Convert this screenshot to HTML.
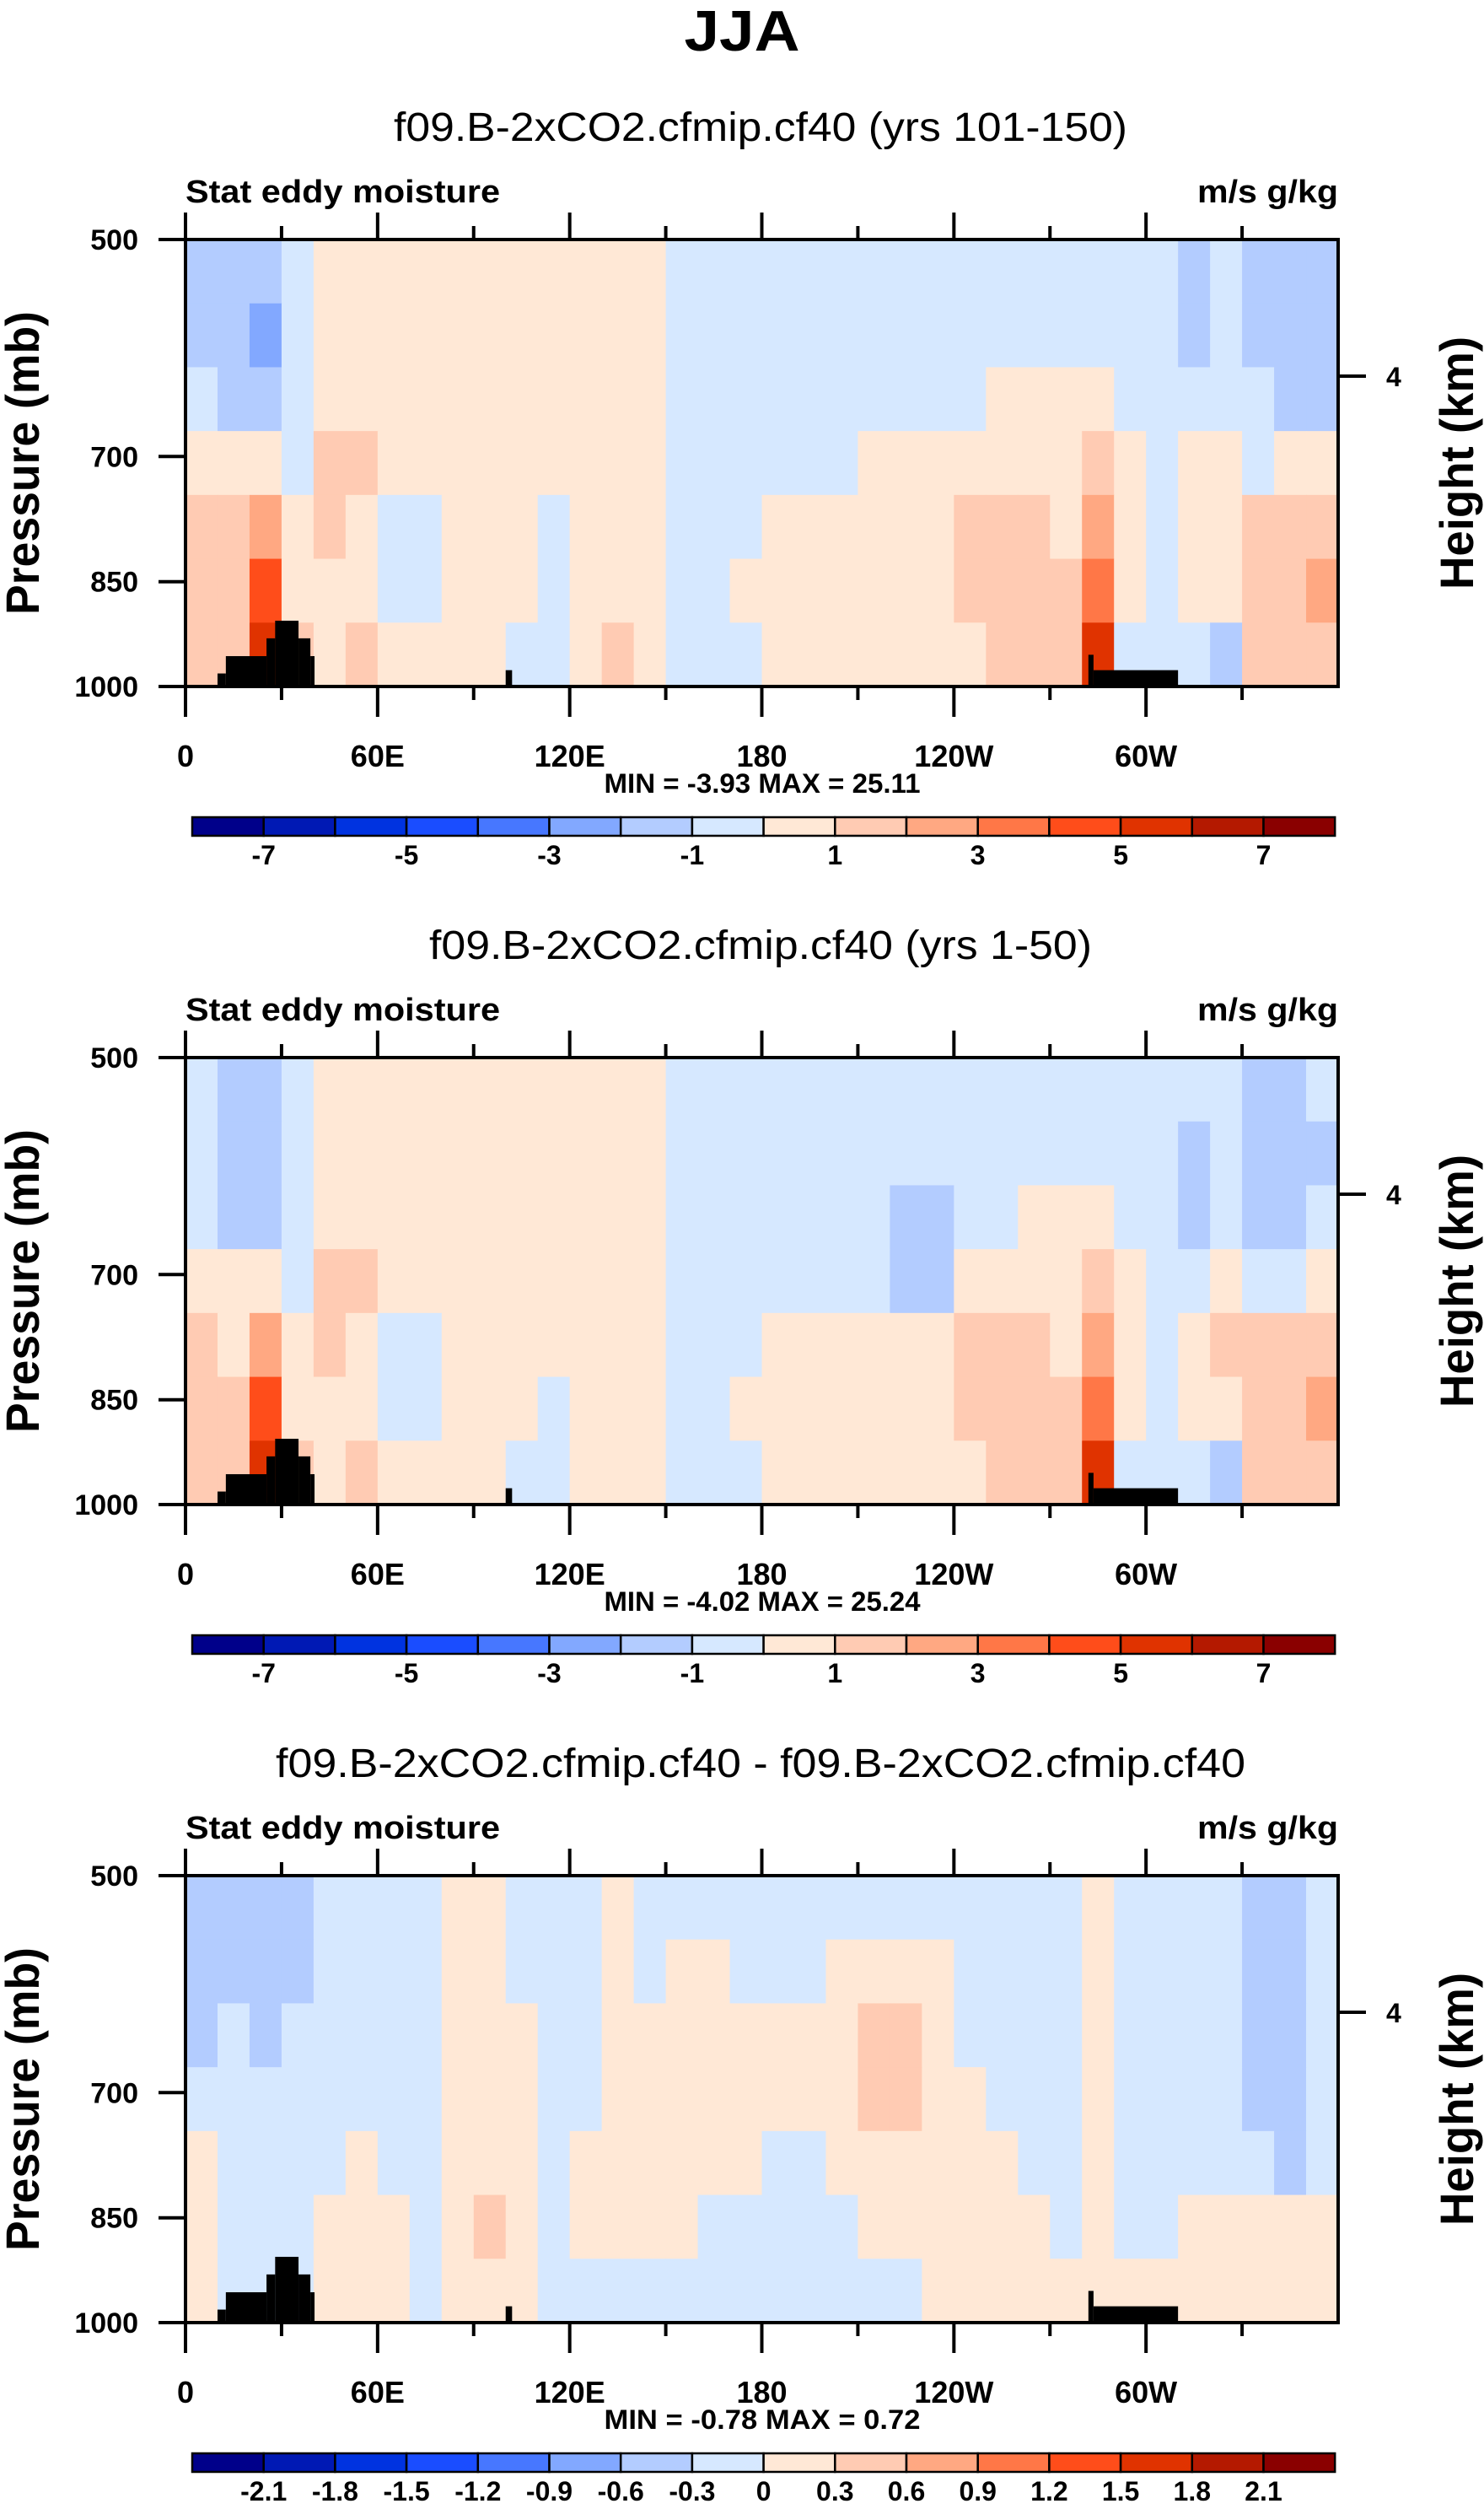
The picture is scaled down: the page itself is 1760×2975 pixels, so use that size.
<!DOCTYPE html>
<html><head><meta charset="utf-8"><title>JJA Stat eddy moisture</title>
<style>html,body{margin:0;padding:0;background:#fff}svg{display:block}text{font-family:"Liberation Sans",sans-serif}</style>
</head><body>
<svg id="fig" xmlns="http://www.w3.org/2000/svg" width="1760" height="2975" viewBox="0 0 1760 2975">
<rect width="1760" height="2975" fill="#fff"/>
<text x="880" y="60" text-anchor="middle" font-size="68" font-weight="bold" textLength="137" lengthAdjust="spacingAndGlyphs">JJA</text>
</svg>
<script>
// shared structure
const lonCols = [0,10,20,30,40,50,60,70,80,90,100,110,120,130,140,150,160,170,180,190,200,210,220,230,240,250,260,270,280,290,300,310,320,330,340,350];
const pressureTicks = [500,700,850,1000];
const lonTicks = [0,60,120,180,240,300];
const lonTickLabels = ["0","60E","120E","180","120W","60W"];
const cbColors = ["#00008a","#0019b4","#0033e0","#1a4dff","#4777ff","#82a8ff","#b3ccff","#d6e8ff","#ffe8d6","#ffcbb3","#ffa882","#ff7747","#ff4d1a","#e03300","#b41900","#8a0000"];
const cbLabelsA = ["","-7","","-5","","-3","","-1","","1","","3","","5","","7",""];
const cbLabelsB = ["","-2.1","-1.8","-1.5","-1.2","-0.9","-0.6","-0.3","0","0.3","0.6","0.9","1.2","1.5","1.8","2.1",""];
const topoLonStart = [10,12.6,25.3,28,35.3,39,100,282,283.6];
const topoLonEnd   = [12.6,25.3,28,35.3,39,40.3,102,283.6,310];
const topoTopP     = [980,954,928,903,928,954,975,952,975];

// panel 1 values (rows top 500mb -> bottom 1000mb)
const p1r0=[-1.5,-1.5,-1.5,-0.5,0.5,0.5,0.5,0.5,0.5,0.5,0.5,0.5,0.5,0.5,0.5,-0.5,-0.5,-0.5,-0.5,-0.5,-0.5,-0.5,-0.5,-0.5,-0.5,-0.5,-0.5,-0.5,-0.5,-0.5,-0.5,-1.5,-0.5,-1.5,-1.5,-1.5];
const p1r1=[-1.5,-1.5,-2.5,-0.5,0.5,0.5,0.5,0.5,0.5,0.5,0.5,0.5,0.5,0.5,0.5,-0.5,-0.5,-0.5,-0.5,-0.5,-0.5,-0.5,-0.5,-0.5,-0.5,-0.5,-0.5,-0.5,-0.5,-0.5,-0.5,-1.5,-0.5,-1.5,-1.5,-1.5];
const p1r2=[-0.5,-1.5,-1.5,-0.5,0.5,0.5,0.5,0.5,0.5,0.5,0.5,0.5,0.5,0.5,0.5,-0.5,-0.5,-0.5,-0.5,-0.5,-0.5,-0.5,-0.5,-0.5,-0.5,0.5,0.5,0.5,0.5,-0.5,-0.5,-0.5,-0.5,-0.5,-1.5,-1.5];
const p1r3=[0.5,0.5,0.5,-0.5,1.5,1.5,0.5,0.5,0.5,0.5,0.5,0.5,0.5,0.5,0.5,-0.5,-0.5,-0.5,-0.5,-0.5,-0.5,0.5,0.5,0.5,0.5,0.5,0.5,0.5,1.5,0.5,-0.5,0.5,0.5,-0.5,0.5,0.5];
const p1r4=[1.5,1.5,2.5,0.5,1.5,0.5,-0.5,-0.5,0.5,0.5,0.5,-0.5,0.5,0.5,0.5,-0.5,-0.5,-0.5,0.5,0.5,0.5,0.5,0.5,0.5,1.5,1.5,1.5,0.5,2.5,0.5,-0.5,0.5,0.5,1.5,1.5,1.5];
const p1r5=[1.5,1.5,4.5,0.5,0.5,0.5,-0.5,-0.5,0.5,0.5,0.5,-0.5,0.5,0.5,0.5,-0.5,-0.5,0.5,0.5,0.5,0.5,0.5,0.5,0.5,1.5,1.5,1.5,1.5,3.5,0.5,-0.5,0.5,0.5,1.5,1.5,2.5];
const p1r6=[1.5,1.5,5.5,1.5,0.5,1.5,0.5,0.5,0.5,0.5,-0.5,-0.5,0.5,1.5,0.5,-0.5,-0.5,-0.5,0.5,0.5,0.5,0.5,0.5,0.5,0.5,1.5,1.5,1.5,5.5,-0.5,-0.5,-0.5,-1.5,1.5,1.5,1.5];
// panel 2 values
const p2r0=[-0.5,-1.5,-1.5,-0.5,0.5,0.5,0.5,0.5,0.5,0.5,0.5,0.5,0.5,0.5,0.5,-0.5,-0.5,-0.5,-0.5,-0.5,-0.5,-0.5,-0.5,-0.5,-0.5,-0.5,-0.5,-0.5,-0.5,-0.5,-0.5,-0.5,-0.5,-1.5,-1.5,-0.5];
const p2r1=[-0.5,-1.5,-1.5,-0.5,0.5,0.5,0.5,0.5,0.5,0.5,0.5,0.5,0.5,0.5,0.5,-0.5,-0.5,-0.5,-0.5,-0.5,-0.5,-0.5,-0.5,-0.5,-0.5,-0.5,-0.5,-0.5,-0.5,-0.5,-0.5,-1.5,-0.5,-1.5,-1.5,-1.5];
const p2r2=[-0.5,-1.5,-1.5,-0.5,0.5,0.5,0.5,0.5,0.5,0.5,0.5,0.5,0.5,0.5,0.5,-0.5,-0.5,-0.5,-0.5,-0.5,-0.5,-0.5,-1.5,-1.5,-0.5,-0.5,0.5,0.5,0.5,-0.5,-0.5,-1.5,-0.5,-1.5,-1.5,-0.5];
const p2r3=[0.5,0.5,0.5,-0.5,1.5,1.5,0.5,0.5,0.5,0.5,0.5,0.5,0.5,0.5,0.5,-0.5,-0.5,-0.5,-0.5,-0.5,-0.5,-0.5,-1.5,-1.5,0.5,0.5,0.5,0.5,1.5,0.5,-0.5,-0.5,0.5,-0.5,-0.5,0.5];
const p2r4=[1.5,0.5,2.5,0.5,1.5,0.5,-0.5,-0.5,0.5,0.5,0.5,0.5,0.5,0.5,0.5,-0.5,-0.5,-0.5,0.5,0.5,0.5,0.5,0.5,0.5,1.5,1.5,1.5,0.5,2.5,0.5,-0.5,0.5,1.5,1.5,1.5,1.5];
const p2r5=[1.5,1.5,4.5,0.5,0.5,0.5,-0.5,-0.5,0.5,0.5,0.5,-0.5,0.5,0.5,0.5,-0.5,-0.5,0.5,0.5,0.5,0.5,0.5,0.5,0.5,1.5,1.5,1.5,1.5,3.5,0.5,-0.5,0.5,0.5,1.5,1.5,2.5];
const p2r6=[1.5,1.5,5.5,1.5,0.5,1.5,0.5,0.5,0.5,0.5,-0.5,-0.5,0.5,0.5,0.5,-0.5,-0.5,-0.5,0.5,0.5,0.5,0.5,0.5,0.5,0.5,1.5,1.5,1.5,5.5,-0.5,-0.5,-0.5,-1.5,1.5,1.5,1.5];
// panel 3 (difference) values
const p3r0=[-0.45,-0.45,-0.45,-0.45,-0.15,-0.15,-0.15,-0.15,0.15,0.15,-0.15,-0.15,-0.15,0.15,-0.15,-0.15,-0.15,-0.15,-0.15,-0.15,-0.15,-0.15,-0.15,-0.15,-0.15,-0.15,-0.15,-0.15,0.15,-0.15,-0.15,-0.15,-0.15,-0.45,-0.45,-0.15];
const p3r1=[-0.45,-0.45,-0.45,-0.45,-0.15,-0.15,-0.15,-0.15,0.15,0.15,-0.15,-0.15,-0.15,0.15,-0.15,0.15,0.15,-0.15,-0.15,-0.15,0.15,0.15,0.15,0.15,-0.15,-0.15,-0.15,-0.15,0.15,-0.15,-0.15,-0.15,-0.15,-0.45,-0.45,-0.15];
const p3r2=[-0.45,-0.15,-0.45,-0.15,-0.15,-0.15,-0.15,-0.15,0.15,0.15,0.15,-0.15,-0.15,0.15,0.15,0.15,0.15,0.15,0.15,0.15,0.15,0.45,0.45,0.15,-0.15,-0.15,-0.15,-0.15,0.15,-0.15,-0.15,-0.15,-0.15,-0.45,-0.45,-0.15];
const p3r3=[-0.15,-0.15,-0.15,-0.15,-0.15,-0.15,-0.15,-0.15,0.15,0.15,0.15,-0.15,-0.15,0.15,0.15,0.15,0.15,0.15,0.15,0.15,0.15,0.45,0.45,0.15,0.15,-0.15,-0.15,-0.15,0.15,-0.15,-0.15,-0.15,-0.15,-0.45,-0.45,-0.15];
const p3r4=[0.15,-0.15,-0.15,-0.15,-0.15,0.15,-0.15,-0.15,0.15,0.15,0.15,-0.15,0.15,0.15,0.15,0.15,0.15,0.15,-0.15,-0.15,0.15,0.15,0.15,0.15,0.15,0.15,-0.15,-0.15,0.15,-0.15,-0.15,-0.15,-0.15,-0.15,-0.45,-0.15];
const p3r5=[0.15,-0.15,-0.15,-0.15,0.15,0.15,0.15,-0.15,0.15,0.45,0.15,-0.15,0.15,0.15,0.15,0.15,-0.15,-0.15,-0.15,-0.15,-0.15,0.15,0.15,0.15,0.15,0.15,0.15,-0.15,0.15,-0.15,-0.15,0.15,0.15,0.15,0.15,0.15];
const p3r6=[0.15,-0.15,-0.15,-0.15,0.15,0.15,0.15,-0.15,0.15,0.15,0.15,-0.15,-0.15,-0.15,-0.15,-0.15,-0.15,-0.15,-0.15,-0.15,-0.15,-0.15,-0.15,0.15,0.15,0.15,0.15,0.15,0.15,0.15,0.15,0.15,0.15,0.15,0.15,0.15];
const panelTitles = ["f09.B-2xCO2.cfmip.cf40 (yrs 101-150)","f09.B-2xCO2.cfmip.cf40 (yrs 1-50)","f09.B-2xCO2.cfmip.cf40 - f09.B-2xCO2.cfmip.cf40"];
const panelStats = ["MIN =  -3.93  MAX =  25.11","MIN =  -4.02  MAX =  25.24","MIN =  -0.78  MAX =  0.72"];
const levelSteps = [1,1,0.3];

const NS="http://www.w3.org/2000/svg";
const svg=document.getElementById('fig');
function mk(tag,attrs,parent){const e=document.createElementNS(NS,tag);for(const k in attrs)e.setAttribute(k,attrs[k]);(parent||svg).appendChild(e);return e;}
const L=220,R=1587,PT=284,PB=814;
function xScale(lon){return L+(R-L)*lon/360;}
function yScale(p,off){return off+PT+(PB-PT)*Math.log(p/500)/Math.log(2);}
function colorFor(v,step){let i=Math.floor(v/step)+8;i=Math.max(0,Math.min(15,i));return cbColors[i];}

const panels=[[p1r0,p1r1,p1r2,p1r3,p1r4,p1r5,p1r6],[p2r0,p2r1,p2r2,p2r3,p2r4,p2r5,p2r6],[p3r0,p3r1,p3r2,p3r3,p3r4,p3r5,p3r6]];
const subW=[870,786,1150];

panels.forEach((rows,pi)=>{
  const off=pi*970;
  const g=mk('g',{});
  
  
  const st=mk('text',{x:902,y:off+167,'text-anchor':'middle','font-size':48,textLength:subW[pi],lengthAdjust:'spacingAndGlyphs'},g);
  st.textContent=panelTitles[pi];
  
  
  const lt=mk('text',{x:220,y:off+240,'font-size':38,'font-weight':'bold',textLength:373,lengthAdjust:'spacingAndGlyphs'},g);
  lt.textContent='Stat eddy moisture';
  
  
  const ut=mk('text',{x:1587,y:off+240,'text-anchor':'end','font-size':38,'font-weight':'bold',textLength:167,lengthAdjust:'spacingAndGlyphs'},g);
  ut.textContent='m/s g/kg';
  
  
  const nR=rows.length,h=(PB-PT)/nR;
  rows.forEach((row,ri)=>{
    row.forEach((v,ci)=>{
      const x0=xScale(lonCols[ci]),x1=xScale(ci+1<lonCols.length?lonCols[ci+1]:360);
      const c=mk('rect',{x:x0,y:off+PT+ri*h,width:x1-x0+0.6,height:h+0.6,fill:colorFor(v,levelSteps[pi])},g);
      
      
    });
  });
  topoLonStart.forEach((s,i)=>{
    const y0=yScale(topoTopP[i],off);
    const t=mk('rect',{x:xScale(s),y:y0,width:xScale(topoLonEnd[i])-xScale(s),height:off+PB-y0,fill:'#000'},g);
    
    
  });
  const fr=mk('rect',{x:L,y:off+PT,width:R-L,height:PB-PT,fill:'none',stroke:'#000','stroke-width':4},g);
  
  
  for(let lon=0;lon<360;lon+=30){
    const major=lon%60===0, len=major?32:16, x=xScale(lon);
    mk('line',{x1:x,x2:x,y1:off+PT,y2:off+PT-len,stroke:'#000','stroke-width':4},g);
    mk('line',{x1:x,x2:x,y1:off+PB,y2:off+PB+len+(major?4:0),stroke:'#000','stroke-width':4},g);
  }
  lonTicks.forEach((lon,i)=>{
    const t=mk('text',{x:xScale(lon),y:off+909,'text-anchor':'middle','font-size':36,'font-weight':'bold'},g);
    t.textContent=lonTickLabels[i];
    
    
  });
  pressureTicks.forEach(p=>{
    const y=yScale(p,off);
    mk('line',{x1:L,x2:188,y1:y,y2:y,stroke:'#000','stroke-width':4},g);
    const t=mk('text',{x:164,y:y+12,'text-anchor':'end','font-size':34,'font-weight':'bold'},g);
    t.textContent=String(p);
    
    
  });
  mk('line',{x1:R,x2:1620,y1:off+446,y2:off+446,stroke:'#000','stroke-width':4},g);
  const h4=mk('text',{x:1644,y:off+458,'font-size':32,'font-weight':'bold'},g);
  h4.textContent='4';
  
  
  const ya=mk('text',{x:0,y:0,'text-anchor':'middle','font-size':56,'font-weight':'bold',textLength:360,lengthAdjust:'spacingAndGlyphs',transform:`translate(46,${off+549}) rotate(-90)`},g);
  ya.textContent='Pressure (mb)';
  
  
  const ha=mk('text',{x:0,y:0,'text-anchor':'middle','font-size':56,'font-weight':'bold',textLength:300,lengthAdjust:'spacingAndGlyphs',transform:`translate(1747,${off+549}) rotate(-90)`},g);
  ha.textContent='Height (km)';
  
  
  const mm=mk('text',{x:904,y:off+940,'text-anchor':'middle','font-size':32,'font-weight':'bold',textLength:375,lengthAdjust:'spacingAndGlyphs'},g);
  mm.textContent=panelStats[pi];
  
  
  const cbL=228,cbW=84.7,cbT=off+969,cbH=22;
  cbColors.forEach((c,i)=>{
    const b=mk('rect',{x:cbL+i*cbW,y:cbT,width:cbW,height:cbH,fill:c,stroke:'#000','stroke-width':2.5},g);
    
    
  });
  const labs=pi<2?cbLabelsA:cbLabelsB;
  labs.forEach((s,i)=>{
    if(!s)return;
    const t=mk('text',{x:cbL+i*cbW,y:off+1025,'text-anchor':'middle','font-size':32,'font-weight':'bold'},g);
    t.textContent=s;
    
    
  });
});
</script>
</body></html>
